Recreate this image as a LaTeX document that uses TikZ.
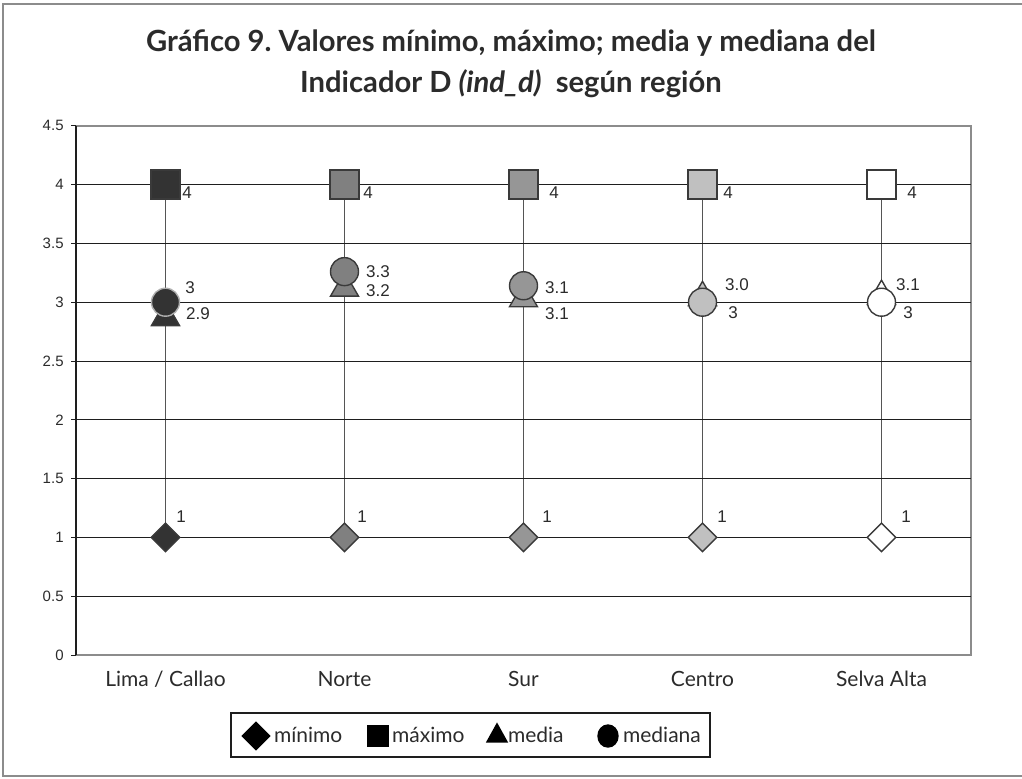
\documentclass[tikz,border=0pt]{standalone}
\usepackage{fontspec}
\setmainfont{Lato}
\newfontfamily\arialfont{Liberation Sans}
\usepackage{tikz}
\usetikzlibrary{positioning, shapes.geometric, backgrounds}
\frenchspacing
\definecolor{ink}{HTML}{2B2B2B}
\definecolor{gridc}{HTML}{1E1E1E}
\definecolor{stemc}{HTML}{555555}
\definecolor{framec}{HTML}{8C8C8C}
\definecolor{mkline}{HTML}{3A3A3A}
\definecolor{limac}{HTML}{333333}
\definecolor{nortec}{HTML}{808080}
\definecolor{surc}{HTML}{969696}
\definecolor{centroc}{HTML}{C0C0C0}
\definecolor{selvac}{HTML}{FFFFFF}
\tikzset{%
  mk/.style={draw=mkline, line width=0.7pt, inner sep=0pt}, % every marker
  maxmk/.style={mk, rectangle, minimum size=14.5pt},
  minmk/.style={mk, diamond, minimum size=14.5pt},
  medmk/.style={mk, regular polygon, regular polygon sides=3, minimum size=16.2pt},
  mdnmk/.style={mk, circle, minimum size=14pt},
  val/.style={font=\arialfont\fontsize{8.5}{10}\selectfont, text=ink, inner sep=0pt},
  axval/.style={font=\arialfont\fontsize{7.5}{9}\selectfont, text=ink, inner sep=0pt, anchor=east},
  cat/.style={font=\fontsize{10.5}{12}\selectfont, text=ink, inner sep=0pt, text height=8pt, text depth=2pt},
  stem/.style={draw=stemc, line width=0.6pt},
  grid line/.style={draw=gridc, line width=0.5pt}
}

\begin{document}
\begin{tikzpicture}[x=0.5pt, y=-0.5pt]
\useasboundingbox (0,0) rectangle (1022,778);

% outer frame, open on the right
\draw[framec, line width=0.8pt] (1022,4) -- (3,4) -- (3,776) -- (1022,776);

\node[font=\bfseries\fontsize{14.6}{20.5}\selectfont, text=ink, align=center] (title) at (511,64)
  {Gráfico 9. Valores mínimo, máximo; media y mediana del\\
   Indicador D \textit{(ind\_d)}\ \ según región};

% plot area
\draw[framec, line width=0.6pt] (76,126) rectangle (971,655);
\foreach \v/\t in {0/0, 1/0.5, 2/1, 3/1.5, 4/2, 5/2.5, 6/3, 7/3.5, 8/4, 9/4.5}{
  \node[axval] (y\v) at (64,655-\v*58.8) {\t};
  \draw[grid line] (71,655-\v*58.8) -- (76,655-\v*58.8);
}
\draw[gridc, line width=0.7pt] (76,126) -- (76,655);

\begin{scope}[shift={(76,655)}, x=44.75pt, y=58.8pt]
\foreach \g in {0.5,1,...,4}{
  \draw[grid line] (0,\g) -- (10,\g);
}

% Lima / Callao
\node[minmk, fill=limac] (min-lima) at (1,1) {};
\node[maxmk, fill=limac] (max-lima) at (1,4) {};
\node[medmk, fill=limac] (med-lima) at (1,2.87) {};
\node[mdnmk, fill=limac, draw=framec!70] (mdn-lima) at (1,3) {};

% Norte
\node[minmk, fill=nortec] (min-norte) at (3,1) {};
\node[maxmk, fill=nortec] (max-norte) at (3,4) {};
\node[medmk, fill=nortec] (med-norte) at (3,3.12) {};
\node[mdnmk, fill=nortec] (mdn-norte) at (3,3.26) {};

% Sur
\node[minmk, fill=surc] (min-sur) at (5,1) {};
\node[maxmk, fill=surc] (max-sur) at (5,4) {};
\node[medmk, fill=surc] (med-sur) at (5,3.03) {};
\node[mdnmk, fill=surc] (mdn-sur) at (5,3.14) {};

% Centro
\node[minmk, fill=centroc] (min-centro) at (7,1) {};
\node[maxmk, fill=centroc] (max-centro) at (7,4) {};
\node[medmk, fill=centroc] (med-centro) at (7,3.04) {};
\node[mdnmk, fill=centroc] (mdn-centro) at (7,3) {};

% Selva Alta
\node[minmk, fill=selvac] (min-selva) at (9,1) {};
\node[maxmk, fill=selvac] (max-selva) at (9,4) {};
\node[medmk, fill=selvac] (med-selva) at (9,3.05) {};
\node[mdnmk, fill=selvac] (mdn-selva) at (9,3) {};

\begin{pgfonlayer}{background}
\draw[stem] (min-lima.center) -- (max-lima.center);
\draw[stem] (min-norte.center) -- (max-norte.center);
\draw[stem] (min-sur.center) -- (max-sur.center);
\draw[stem] (min-centro.center) -- (max-centro.center);
\draw[stem] (min-selva.center) -- (max-selva.center);
\end{pgfonlayer}
\end{scope}

% value labels
\node[val] (l-max-lima) at (187,193) {4};
\node[val] (l-mdn-lima) at (190,288) {3};
\node[val] (l-med-lima) at (198,314) {2.9};
\node[val] (l-min-lima) at (181,517) {1};

\node[val] (l-max-norte) at (368,193) {4};
\node[val] (l-mdn-norte) at (378,272) {3.3};
\node[val] (l-med-norte) at (378,291) {3.2};
\node[val] (l-min-norte) at (362,517) {1};

\node[val] (l-max-sur) at (554,193) {4};
\node[val] (l-mdn-sur) at (557,288) {3.1};
\node[val] (l-med-sur) at (557,314) {3.1};
\node[val] (l-min-sur) at (547,517) {1};

\node[val] (l-max-centro) at (728,193) {4};
\node[val] (l-med-centro) at (737,285) {3.0};
\node[val] (l-mdn-centro) at (733,313) {3};
\node[val] (l-min-centro) at (722,517) {1};

\node[val] (l-max-selva) at (912,193) {4};
\node[val] (l-med-selva) at (908,285) {3.1};
\node[val] (l-mdn-selva) at (908,313) {3};
\node[val] (l-min-selva) at (906,517) {1};

% categories
\node[cat] (c-lima) at (165.5,680) {Lima / Callao};
\node[cat] (c-norte) at (344.5,680) {Norte};
\node[cat] (c-sur) at (523.5,680) {Sur};
\node[cat] (c-centro) at (702.5,680) {Centro};
\node[cat] (c-selva) at (881.5,680) {Selva Alta};

% legend
\node[draw=gridc, line width=0.6pt, minimum width=239.5pt, minimum height=22pt, inner sep=0pt] (legend) at (470.5,735) {};
\node[mk, diamond, fill=black, draw=black, minimum size=14pt] (k-min) at (256,736) {};
\node[cat, right=1.5pt of k-min] (t-min) {mínimo};
\node[mk, rectangle, fill=black, draw=black, minimum size=10pt] (k-max) at (378,736) {};
\node[cat, right=1.5pt of k-max] (t-max) {máximo};
\node[mk, isosceles triangle, shape border rotate=90, isosceles triangle stretches, fill=black, draw=black, minimum width=10pt, minimum height=9pt] (k-med) at (497,736) {};
\node[cat, right=1.5pt of k-med] (t-med) {media};
\node[mk, ellipse, fill=black, draw=black, minimum width=10pt, minimum height=11pt] (k-mdn) at (608,736) {};
\node[cat, right=2pt of k-mdn] (t-mdn) {mediana};
\end{tikzpicture}
\end{document}
